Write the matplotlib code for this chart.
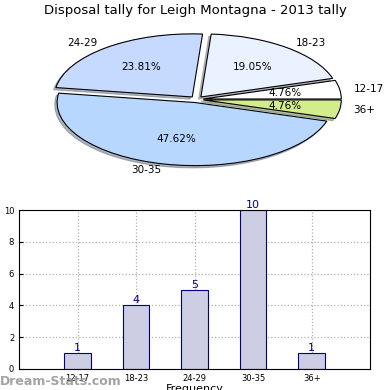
import matplotlib
matplotlib.use('Agg')
import matplotlib.pyplot as plt
import numpy as np

# data
categories = ['12-17', '18-23', '24-29', '30-35', '36+']
tally = [1, 4, 5, 10, 1]
pie_colors = ['#ffffff', '#eaf1ff', '#c6d9ff', '#b7d7ff', '#d2ec8e']
explode = [0.05, 0.05, 0.05, 0.05, 0.05]

fig = plt.figure(figsize=(3.9, 3.9), dpi=100)

# pie on top (stretched ellipse like the original)
ax1 = fig.add_axes([0.115, 0.567, 0.778, 0.356])
wedges, texts, autotexts = ax1.pie(tally, labels=categories, colors=pie_colors,
                                   explode=explode, autopct='%.2f%%',
                                   shadow={'ox': -0.012, 'oy': -0.025, 'shade': 0.5},
                                   startangle=0, counterclock=True,
                                   wedgeprops={'edgecolor': 'black', 'linewidth': 0.8},
                                   textprops={'fontsize': 7.5})
ax1.set_aspect('auto')
ax1.set_xlim(-1.1, 1.1)
ax1.set_ylim(-1.1, 1.1)
fig.text(0.5, 0.972, 'Disposal tally for Leigh Montagna - 2013 tally',
         ha='center', va='center', fontsize=9.5)

# bar chart below
ax2 = fig.add_axes([0.049, 0.054, 0.9, 0.407])
x = np.arange(1, len(categories) + 1)
ax2.bar(x, tally, width=0.45, color='#cdcde3', edgecolor='#000080', linewidth=0.8, zorder=2)
for xi, v in zip(x, tally):
    ax2.text(xi, v, str(v), ha='center', va='bottom', color='#000080', fontsize=8)
ax2.set_xlim(0, 6)
ax2.set_ylim(0, 10)
ax2.set_xticks(x)
ax2.set_xticklabels(categories)
ax2.set_yticks(range(0, 11, 2))
ax2.tick_params(labelsize=6, direction='in', length=3)
ax2.grid(True, linestyle=':', color='#b0b0b0', linewidth=0.9, zorder=0)
ax2.set_axisbelow(True)
ax2.set_xlabel('Frequency', fontsize=8, labelpad=1)
ax2.set_ylabel('Disposal Tally', fontsize=8)
ax2.yaxis.set_label_coords(-0.075, 0.5)

fig.text(0.0, 0.022, 'Dream-Stats.com', color='#999999', fontsize=9,
         fontweight='bold', ha='left', va='center', alpha=0.9)

plt.savefig('out.png', dpi=100)
plt.close()
